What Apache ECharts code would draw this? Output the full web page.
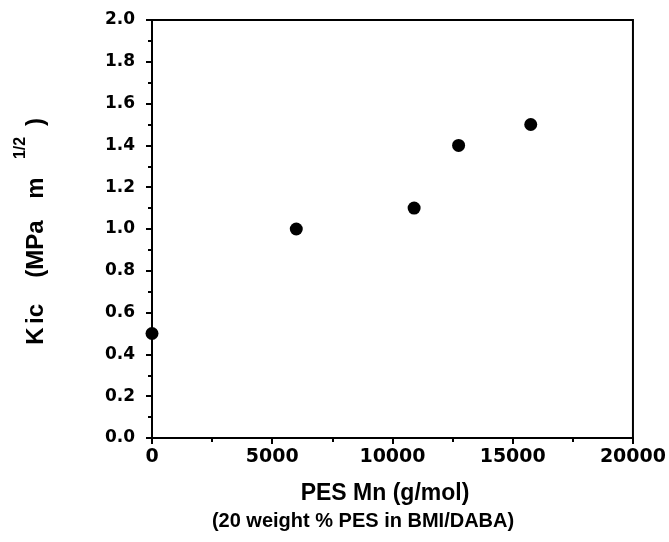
<!DOCTYPE html>
<html>
<head>
<meta charset="utf-8">
<script src="https://cdn.jsdelivr.net/npm/echarts@6/dist/echarts.min.js"></script>
<style>
html,body{margin:0;padding:0;background:#fff;}
#chart{width:669px;height:542px;}
</style>
</head>
<body>
<div id="chart"></div>
<script>
// Data
const mnValues = [0, 6000, 10900, 12750, 15750];      // PES Mn (g/mol)
const kicValues = [0.5, 1.0, 1.1, 1.4, 1.5];          // KIc (MPa m^1/2)
const xTitleLine1 = 'PES Mn (g/mol)';
const xTitleLine2 = '(20 weight % PES in BMI/DABA)';
const yTitleParts = ['K', 'ic', '(MPa', 'm', '1/2', ')'];

const points = mnValues.map((v, i) => [v, kicValues[i]]);

const chart = echarts.init(document.getElementById('chart'), null, {renderer: 'canvas'});

// rotated y-title pieces (position along text, cross position, font size)
const yTitleLayout = [
  {y: 336, x: 36.5, size: 24},
  {y: 314, x: 36.5, size: 24},
  {y: 249, x: 36.5, size: 24},
  {y: 188, x: 36.5, size: 24},
  {y: 148, x: 20.5, size: 16},
  {y: 122, x: 36.5, size: 24}
];
const yTitleGraphics = yTitleParts.map((t, i) => ({
  type: 'text', x: yTitleLayout[i].x, y: yTitleLayout[i].y, rotation: Math.PI / 2,
  style: {
    text: t, fill: '#000', align: 'center', verticalAlign: 'middle',
    font: 'bold ' + yTitleLayout[i].size + 'px Liberation Sans, Arial, sans-serif'
  }
}));

chart.setOption({
  backgroundColor: '#ffffff',
  animation: false,
  grid: {
    left: 152, right: 35, top: 20, bottom: 104,
    show: true, borderColor: '#000', borderWidth: 2, backgroundColor: 'transparent'
  },
  xAxis: {
    type: 'value', min: 0, max: 20000, interval: 5000,
    axisLine: {show: true, lineStyle: {color: '#000', width: 2}},
    axisTick: {show: true, inside: false, length: 6, lineStyle: {color: '#000', width: 2}},
    minorTick: {show: true, splitNumber: 2, length: 4, lineStyle: {color: '#000', width: 2}},
    splitLine: {show: false},
    axisLabel: {
      margin: 10, color: '#000', fontFamily: 'DejaVu Sans, sans-serif', fontWeight: 'bold', fontSize: 19,
      formatter: v => String(v)
    }
  },
  yAxis: {
    type: 'value', min: 0, max: 2, interval: 0.2,
    axisLine: {show: true, lineStyle: {color: '#000', width: 2}},
    axisTick: {show: true, inside: false, length: 6, lineStyle: {color: '#000', width: 2}},
    minorTick: {show: true, splitNumber: 2, length: 4, lineStyle: {color: '#000', width: 2}},
    splitLine: {show: false},
    axisLabel: {
      margin: 17, color: '#000', fontFamily: 'DejaVu Sans, sans-serif', fontWeight: 'bold', fontSize: 17,
      formatter: v => v.toFixed(1)
    }
  },
  graphic: [
    {
      type: 'text', x: 385, y: 494,
      style: {text: xTitleLine1, fill: '#000', align: 'center', verticalAlign: 'middle',
        font: 'bold 23px Liberation Sans, Arial, sans-serif'}
    },
    {
      type: 'text', x: 363, y: 521,
      style: {text: xTitleLine2, fill: '#000', align: 'center', verticalAlign: 'middle',
        font: 'bold 20px Liberation Sans, Arial, sans-serif'}
    }
  ].concat(yTitleGraphics),
  series: [{
    type: 'scatter',
    data: points,
    symbol: 'circle', symbolSize: 13,
    itemStyle: {color: '#000', opacity: 1}
  }]
});
</script>
</body>
</html>
